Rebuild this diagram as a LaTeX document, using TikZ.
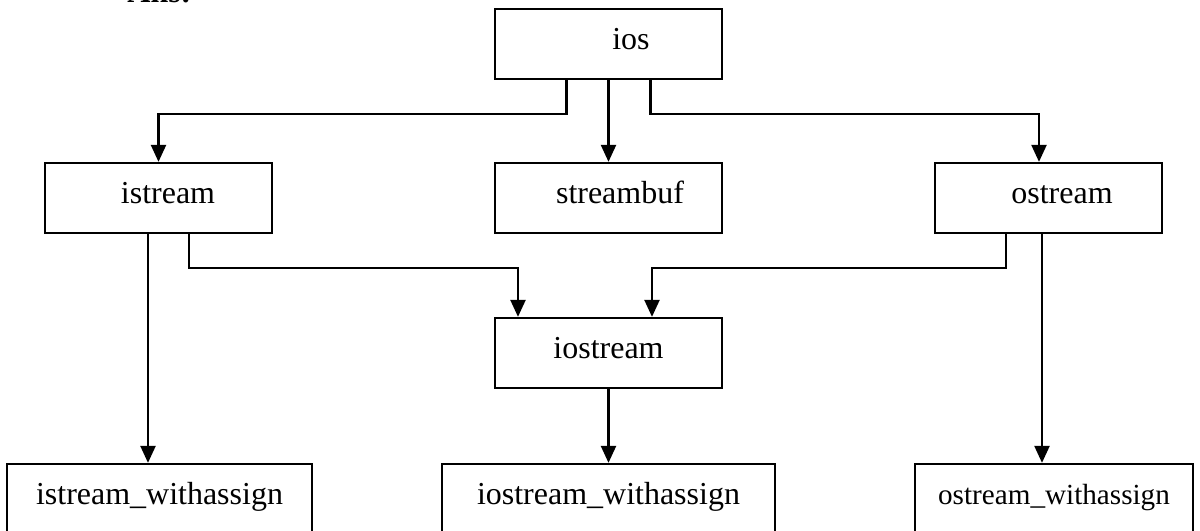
\documentclass[tikz,border=0pt]{standalone}
\usepackage{fontspec}
\setmainfont{Liberation Serif}
\usepackage{tikz}
\usetikzlibrary{arrows.meta, positioning}

\begin{document}
\begin{tikzpicture}[
        box/.style={draw, line width=0.65pt, rectangle, minimum height=0.7cm,
            inner sep=0pt, text height=0.22cm, text depth=0.12cm,
            font=\fontsize{9.1}{11}\selectfont},
        arr/.style={line width=0.65pt, -{Triangle[length=0.17cm,width=0.15cm]}}
    ]
        \useasboundingbox (0,0) rectangle (12,-5.31);

        \node[anchor=base west, font=\fontsize{9.1}{11}\selectfont\bfseries] (ans) at (1.15,-0.03) {Ans:};

        % top row
        \node[box, minimum width=2.27cm] (ios) at (6.085,-0.44) {\hspace*{0.45cm}ios};

        % second row
        \node[box, minimum width=2.27cm] (istream) at (1.585,-1.98) {\hspace*{0.19cm}istream};
        \node[box, minimum width=2.27cm] (streambuf) at (6.085,-1.98) {\hspace*{0.23cm}streambuf};
        \node[box, minimum width=2.27cm] (ostream) at (10.485,-1.98) {\hspace*{0.27cm}ostream};

        % third row
        \node[box, minimum width=2.27cm] (iostream) at (6.085,-3.53) {iostream};

        % bottom row
        \node[box, minimum width=3.05cm] (iswa) at (1.595,-4.99) {istream\_withassign};
        \node[box, minimum width=3.33cm] (iosw) at (6.085,-4.99) {iostream\_withassign};
        \node[box, minimum width=2.78cm, font=\fontsize{8.3}{10}\selectfont] (osw) at (10.54,-4.99) {ostream\_withassign};

        \draw[arr] ([xshift=-0.42cm]ios.south) -- ++(0,-0.34) -| (istream.north);
        \draw[arr] (ios) -- (streambuf);
        \draw[arr] ([xshift=0.42cm]ios.south) -- ++(0,-0.34) -| ([xshift=-0.095cm]ostream.north);

        \draw[arr] ([xshift=0.305cm]istream.south) -- ++(0,-0.34) -| ([xshift=-0.905cm]iostream.north);
        \draw[arr] ([xshift=-0.425cm]ostream.south) -- ++(0,-0.34) -| ([xshift=0.435cm]iostream.north);

        \draw[arr] ([xshift=-0.105cm]istream.south) -- ([xshift=-0.105cm]istream.south |- iswa.north);
        \draw[arr] (iostream) -- (iosw);
        \draw[arr] ([xshift=-0.065cm]ostream.south) -- ([xshift=-0.065cm]ostream.south |- osw.north);
    \end{tikzpicture}
\end{document}
